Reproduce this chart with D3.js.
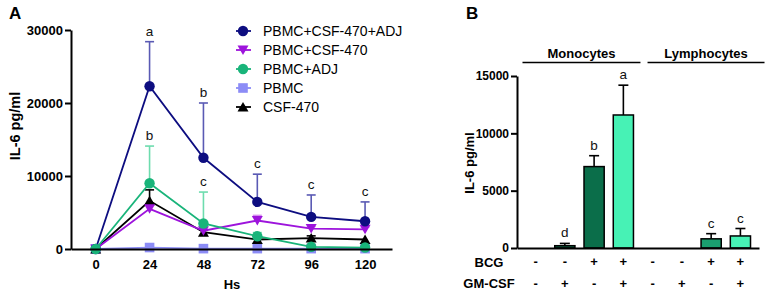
<!DOCTYPE html>
<html>
<head>
<meta charset="utf-8">
<script src="https://cdn.jsdelivr.net/npm/d3@7"></script>
<style>
  body { margin: 0; background: #fff; }
  svg { font-family: Arial, "Liberation Sans", sans-serif; }
</style>
</head>
<body>
<div id="chart"></div>
<script>
// ---------- data panel A (IL-6 over time) ----------
var hours = [0, 24, 48, 72, 96, 120];
var seriesNames = ["PBMC+CSF-470+ADJ", "PBMC+CSF-470", "PBMC+ADJ", "PBMC", "CSF-470"];
var triple   = [0, 22300, 12500, 6450, 4400, 3800];
var tripleSd = [0, 6100, 7500, 3800, 3000, 2650];
var csf      = [0, 5500, 2500, 3900, 2800, 2700];
var csfSd    = [0, 0, 0, 700, 300, 300];
var adj      = [0, 9000, 3500, 1750, 300, 200];
var adjSd    = [0, 5100, 4300, 500, 0, 0];
var pbmc     = [0, 200, 50, 50, 50, 50];
var pbmcSd   = [0, 0, 0, 0, 0, 0];
var csf470   = [0, 6600, 2300, 1300, 1500, 1300];
var csf470Sd = [0, 1500, 300, 0, 300, 0];
var yTicksA = [0, 10000, 20000, 30000];

// significance letters on panel A
var letterSeriesA = [0, 0, 0, 0, 0, 2, 2];
var letterHoursA  = [24, 48, 72, 96, 120, 24, 48];
var letterTextA   = ["a", "b", "c", "c", "c", "b", "c"];

// ---------- data panel B (IL-6 by cell type) ----------
var cats   = ["m1", "m2", "m3", "m4", "l1", "l2", "l3", "l4"];
var bcg    = ["-", "-", "+", "+", "-", "-", "+", "+"];
var gmcsf  = ["-", "+", "-", "+", "-", "+", "-", "+"];
var il6    = [0, 200, 7100, 11600, 0, 0, 800, 1050];
var il6Sd  = [0, 200, 950, 2600, 0, 0, 450, 650];
var lettersB = ["", "d", "b", "a", "", "", "c", "c"];
var groups = ["Monocytes", "Lymphocytes"];
var yTicksB = [0, 5000, 10000, 15000];

var W = 769, H = 294;
var svg = d3.select("#chart").append("svg")
  .attr("width", W).attr("height", H);

// ================= panel A =================
var xA = d3.scaleLinear().domain([-11, 132]).range([71, 392]);
var yA = d3.scaleLinear().domain([0, 30000]).range([249, 30]);

var series = [
  {name: seriesNames[0], v: triple, sd: tripleSd, color: "#0d0d80", err: "#5a5ab4", shape: "circle"},
  {name: seriesNames[1], v: csf, sd: csfSd, color: "#9d14dc", err: "#d68cf0", shape: "tridown"},
  {name: seriesNames[2], v: adj, sd: adjSd, color: "#19b47a", err: "#6ddcae", shape: "circle"},
  {name: seriesNames[3], v: pbmc, sd: pbmcSd, color: "#8c8cf6", err: "#8c8cf6", shape: "square"},
  {name: seriesNames[4], v: csf470, sd: csf470Sd, color: "#000000", err: "#000000", shape: "triup"}
];

function marker(g, shape, color) {
  if (shape === "circle") g.append("circle").attr("r", 5.2).attr("fill", color);
  else if (shape === "square") g.append("rect").attr("x", -4.8).attr("y", -4.8).attr("width", 9.6).attr("height", 9.6).attr("fill", color);
  else if (shape === "tridown") g.append("path").attr("d", "M-5.5,-4.5L5.5,-4.5L0,5z").attr("fill", color);
  else g.append("path").attr("d", "M-5.5,4.5L5.5,4.5L0,-5z").attr("fill", color);
}

var gA = svg.append("g");

// draw order: squares underneath, green on top
var drawOrder = [3, 4, 1, 0, 2];
drawOrder.forEach(function(i) {
  var s = series[i];
  var pts = hours.map((h, k) => ({h: h, v: s.v[k], sd: s.sd[k]}));
  var g = gA.append("g");
  // error bars (upper only)
  pts.filter(d => d.sd > 0).forEach(function(d) {
    g.append("line").attr("x1", xA(d.h)).attr("x2", xA(d.h))
      .attr("y1", yA(d.v)).attr("y2", yA(d.v + d.sd))
      .attr("stroke", s.err).attr("stroke-width", 1.6);
    g.append("line").attr("x1", xA(d.h) - 4.5).attr("x2", xA(d.h) + 4.5)
      .attr("y1", yA(d.v + d.sd)).attr("y2", yA(d.v + d.sd))
      .attr("stroke", s.err).attr("stroke-width", 1.6);
  });
  g.append("path").datum(pts)
    .attr("fill", "none").attr("stroke", s.color).attr("stroke-width", 1.8)
    .attr("d", d3.line().x(d => xA(d.h)).y(d => yA(d.v)));
  pts.forEach(function(d) {
    marker(g.append("g").attr("transform", `translate(${xA(d.h)},${yA(d.v)})`), s.shape, s.color);
  });
});

// letters
letterTextA.forEach(function(t, i) {
  var s = series[letterSeriesA[i]];
  var k = hours.indexOf(letterHoursA[i]);
  gA.append("text")
    .attr("x", xA(letterHoursA[i])).attr("y", yA(s.v[k] + s.sd[k]) - 6)
    .attr("text-anchor", "middle").attr("font-size", 13.5).attr("fill", "#111")
    .text(t);
});

// axes A
var yAxisA = gA.append("g").attr("transform", "translate(71,0)")
  .call(d3.axisLeft(yA).tickValues(yTicksA).tickFormat(d3.format("d")).tickSize(6).tickPadding(2).tickSizeOuter(0));
var xAxisA = gA.append("g").attr("transform", "translate(0,249)")
  .call(d3.axisBottom(xA).tickValues(hours).tickSize(0).tickPadding(11).tickSizeOuter(0));
[yAxisA, xAxisA].forEach(function(ax) {
  ax.selectAll("path,line").attr("stroke", "#000").attr("stroke-width", 2);
  ax.selectAll("text").attr("font-size", 13).attr("font-weight", "bold").attr("fill", "#000")
    .attr("font-family", "Arial, 'Liberation Sans', sans-serif");
});

gA.append("text").attr("x", 232).attr("y", 289).attr("text-anchor", "middle")
  .attr("font-size", 13).attr("font-weight", "bold").text("Hs");
gA.append("text").attr("transform", "translate(20,126) rotate(-90)").attr("text-anchor", "middle")
  .attr("font-size", 14.5).attr("font-weight", "bold").text("IL-6 pg/ml");
svg.append("text").attr("x", 9).attr("y", 19).attr("font-size", 17).attr("font-weight", "bold").text("A");

// legend
var leg = gA.append("g").attr("transform", "translate(243,31)");
series.forEach(function(s, i) {
  var row = leg.append("g").attr("transform", `translate(0,${i * 19})`);
  row.append("line").attr("x1", -7).attr("x2", 8).attr("stroke", s.color).attr("stroke-width", 1.8);
  marker(row, s.shape, s.color);
  row.append("text").attr("x", 20).attr("y", 5).attr("font-size", 14).attr("fill", "#000").text(s.name);
});

// ================= panel B =================
var xB = d3.scaleBand().domain(cats).range([517, 759]).paddingInner(0.31).paddingOuter(0.29);
var yB = d3.scaleLinear().domain([0, 15000]).range([248, 76]);
var bcol = {m2: "#0b6e4a", m3: "#0b6e4a", m4: "#47f2b5", l3: "#1aa070", l4: "#47f2b5"};
var gB = svg.append("g");
var bw = xB.bandwidth();

cats.forEach(function(c, i) {
  if (il6[i] <= 0) return;
  var cx = xB(c) + bw / 2;
  var top = yB(il6[i] + il6Sd[i]);
  gB.append("line").attr("x1", cx).attr("x2", cx).attr("y1", yB(il6[i])).attr("y2", top)
    .attr("stroke", "#000").attr("stroke-width", 1.6);
  gB.append("line").attr("x1", cx - 5).attr("x2", cx + 5).attr("y1", top).attr("y2", top)
    .attr("stroke", "#000").attr("stroke-width", 1.6);
  gB.append("rect").attr("x", xB(c)).attr("y", yB(il6[i]))
    .attr("width", bw).attr("height", yB(0) - yB(il6[i]))
    .attr("fill", bcol[c]).attr("stroke", "#000").attr("stroke-width", 1.5);
  gB.append("text").attr("x", cx).attr("y", top - 6).attr("text-anchor", "middle")
    .attr("font-size", 13.5).attr("fill", "#111").text(lettersB[i]);
});

var yAxisB = gB.append("g").attr("transform", "translate(517,0)")
  .call(d3.axisLeft(yB).tickValues(yTicksB).tickFormat(d3.format("d")).tickSize(6).tickPadding(2).tickSizeOuter(0));
var xAxisB = gB.append("g").attr("transform", "translate(0,248)")
  .call(d3.axisBottom(xB).tickSize(0).tickFormat("").tickSizeOuter(0));
[yAxisB, xAxisB].forEach(function(ax) {
  ax.selectAll("path,line").attr("stroke", "#000").attr("stroke-width", 2);
  ax.selectAll("text").attr("font-size", 12).attr("font-weight", "bold").attr("fill", "#000")
    .attr("font-family", "Arial, 'Liberation Sans', sans-serif");
});

// +/- rows
[bcg, gmcsf].forEach(function(row, r) {
  gB.selectAll(null).data(row).enter().append("text")
    .attr("x", (d, i) => xB(cats[i]) + bw / 2)
    .attr("y", r === 0 ? 266 : 288)
    .attr("text-anchor", "middle").attr("font-size", 13).attr("font-weight", "bold")
    .text(d => d);
});
gB.append("text").attr("x", 489).attr("y", 267).attr("text-anchor", "middle")
  .attr("font-size", 13).attr("font-weight", "bold").text("BCG");
gB.append("text").attr("x", 489).attr("y", 288).attr("text-anchor", "middle")
  .attr("font-size", 13).attr("font-weight", "bold").text("GM-CSF");

// group headers
var spans = [[xB("m1") - 3, xB("m4") + bw + 7], [xB("l1") + 5, xB("l4") + bw + 14]];
groups.forEach(function(g, i) {
  gB.append("line").attr("x1", spans[i][0]).attr("x2", spans[i][1]).attr("y1", 62.5).attr("y2", 62.5)
    .attr("stroke", "#000").attr("stroke-width", 1.6);
  gB.append("text").attr("x", (spans[i][0] + spans[i][1]) / 2).attr("y", 58)
    .attr("text-anchor", "middle").attr("font-size", 13).attr("font-weight", "bold").text(g);
});

gB.append("text").attr("transform", "translate(474,163) rotate(-90)").attr("text-anchor", "middle")
  .attr("font-size", 13).attr("font-weight", "bold").text("IL-6 pg/ml");
svg.append("text").attr("x", 466).attr("y", 19).attr("font-size", 17).attr("font-weight", "bold").text("B");
</script>
</body>
</html>
